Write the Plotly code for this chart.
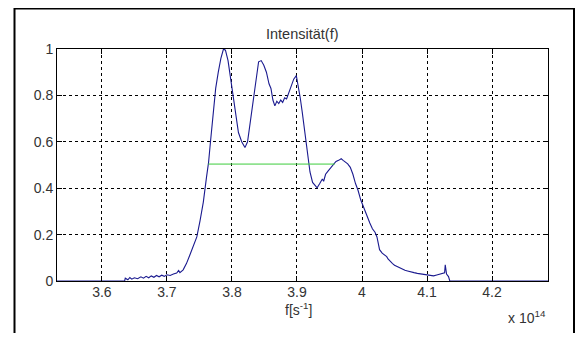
import plotly.graph_objects as go

# frequency in units of 1e14 s^-1
freq = [3.531, 3.635, 3.636, 3.640, 3.643, 3.646, 3.650, 3.655, 3.660, 3.664, 3.668, 3.672,
        3.676, 3.680, 3.684, 3.688, 3.692, 3.696, 3.700, 3.705, 3.710, 3.715, 3.718, 3.720,
        3.725, 3.730, 3.735, 3.740, 3.746, 3.751, 3.756, 3.761, 3.764, 3.767, 3.771, 3.775,
        3.779, 3.783, 3.787, 3.790, 3.794, 3.798, 3.802, 3.806, 3.810, 3.815, 3.820, 3.824,
        3.828, 3.833, 3.837, 3.841, 3.845, 3.849, 3.853, 3.857, 3.860, 3.863, 3.866, 3.869,
        3.872, 3.875, 3.878, 3.881, 3.884, 3.887, 3.891, 3.895, 3.899, 3.902, 3.905, 3.908,
        3.912, 3.916, 3.920, 3.924, 3.928, 3.931, 3.935, 3.939, 3.941, 3.944, 3.948, 3.952,
        3.956, 3.960, 3.964, 3.968, 3.971, 3.974, 3.978, 3.982, 3.986, 3.990, 3.994, 3.998,
        4.002, 4.007, 4.012, 4.016, 4.020, 4.023, 4.025, 4.027, 4.031, 4.035, 4.038, 4.040,
        4.043, 4.047, 4.050, 4.054, 4.058, 4.062, 4.066, 4.070, 4.075, 4.080, 4.085, 4.090,
        4.095, 4.100, 4.105, 4.110, 4.115, 4.120, 4.124, 4.127, 4.128, 4.130, 4.133, 4.135,
        4.286]
intensity = [0.0, 0.0, 0.012, 0.005, 0.015, 0.008, 0.014, 0.010, 0.018, 0.012, 0.020, 0.014,
             0.022, 0.016, 0.024, 0.018, 0.025, 0.020, 0.027, 0.024, 0.030, 0.034, 0.045, 0.036,
             0.048, 0.075, 0.110, 0.145, 0.19, 0.26, 0.34, 0.45, 0.51, 0.60, 0.72, 0.83,
             0.90, 0.96, 1.0, 0.995, 0.95, 0.87, 0.78, 0.70, 0.64, 0.60, 0.575, 0.60,
             0.68, 0.78, 0.88, 0.945, 0.95, 0.93, 0.90, 0.85, 0.83, 0.78, 0.755, 0.775,
             0.765, 0.78, 0.77, 0.79, 0.785, 0.81, 0.84, 0.87, 0.885, 0.84, 0.79, 0.73,
             0.64, 0.54, 0.47, 0.425, 0.41, 0.402, 0.42, 0.44, 0.43, 0.46, 0.475, 0.49,
             0.505, 0.515, 0.52, 0.527, 0.52, 0.515, 0.505, 0.49, 0.46, 0.42, 0.39, 0.35,
             0.32, 0.285, 0.25, 0.225, 0.21, 0.19, 0.16, 0.135, 0.12, 0.11, 0.105, 0.095,
             0.085, 0.075, 0.068, 0.062, 0.055, 0.05, 0.046, 0.043, 0.038, 0.036, 0.033, 0.031,
             0.028, 0.026, 0.024, 0.022, 0.026, 0.029, 0.032, 0.035, 0.07, 0.03, 0.019, 0.0,
             0.0]

# half-maximum line
fwhm_x = [3.7635, 3.958]
fwhm_y = [0.504, 0.504]

x_ticks = [3.6, 3.7, 3.8, 3.9, 4.0, 4.1, 4.2]
x_tick_labels = ["3.6", "3.7", "3.8", "3.9", "4", "4.1", "4.2"]
y_ticks = [0, 0.2, 0.4, 0.6, 0.8, 1.0]
y_tick_labels = ["0", "0.2", "0.4", "0.6", "0.8", "1"]

font = dict(family="Liberation Sans, Arial, sans-serif", size=14, color="#333333")
title_font = dict(family="Liberation Sans, Arial, sans-serif", size=14.5, color="#333333")

fig = go.Figure()
fig.add_trace(go.Scatter(x=freq, y=intensity, mode="lines",
                         line=dict(color="#1a1a8f", width=1.1), showlegend=False))
fig.add_trace(go.Scatter(x=fwhm_x, y=fwhm_y, mode="lines",
                         line=dict(color="#3ccc3c", width=1), showlegend=False))

axis_common = dict(showline=True, linecolor="black", linewidth=1, mirror="allticks",
                   ticks="inside", ticklen=5, tickcolor="black",
                   showgrid=True, gridcolor="black", gridwidth=1, griddash="3px,3px",
                   zeroline=False, tickfont=font)

fig.update_xaxes(range=[3.531, 4.286], tickvals=x_ticks, ticktext=x_tick_labels,
                 ticklabelstandoff=-2, **axis_common)
fig.update_yaxes(range=[0, 1], tickvals=y_ticks, ticktext=y_tick_labels, **axis_common)

# page body adds an 8px offset; figure coords = reference page coords - 8
OFF = 8
W, H = 586 - OFF, 341 - 2 * OFF
L, R, T, B = 57 - OFF, 548 - OFF, 49 - OFF, 281 - OFF
pw, ph = R - L, B - T

def px(x):
    return (x - OFF - L) / pw

def py(y):
    return (B - (y - OFF)) / ph

fig.update_layout(
    width=W, height=H,
    margin=dict(l=L, r=W - R, t=T, b=H - B),
    paper_bgcolor="white", plot_bgcolor="white",
    font=font,
    annotations=[
        dict(text="Intensität(f)", x=0.5, y=py(34), xref="paper", yref="paper",
             showarrow=False, font=title_font, xanchor="center", yanchor="middle"),
        dict(text="f[s<sup>-1</sup>]", x=px(298), y=py(309), xref="paper", yref="paper",
             showarrow=False, font=font, xanchor="center", yanchor="middle"),
        dict(text="x 10<sup>14</sup>", x=px(527), y=py(317), xref="paper", yref="paper",
             showarrow=False, font=font, xanchor="center", yanchor="middle"),
    ],
    shapes=[
        dict(type="rect", xref="paper", yref="paper",
             x0=px(14.5), x1=px(574), y0=py(345), y1=py(8.5),
             line=dict(color="black", width=2), fillcolor="rgba(0,0,0,0)", layer="above"),
    ],
)

fig.write_html("out.html")
